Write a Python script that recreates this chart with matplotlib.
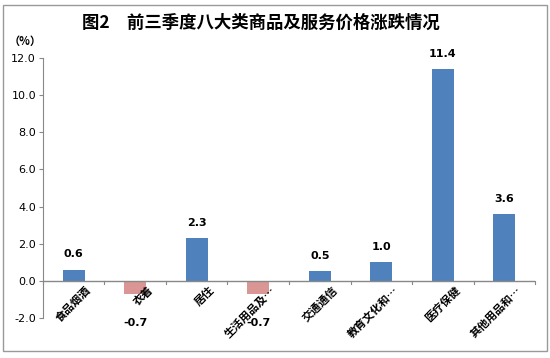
import numpy as np
import matplotlib.pyplot as plt
from matplotlib.patches import Rectangle

plt.rcParams['font.family'] = ['Noto Sans CJK SC', 'DejaVu Sans']

categories = ['食品烟酒', '衣着', '居住', '生活用品及…', '交通通信', '教育文化和…', '医疗保健', '其他用品和…']
values = [0.6, -0.7, 2.3, -0.7, 0.5, 1.0, 11.4, 3.6]
yticks = [-2.0, 0.0, 2.0, 4.0, 6.0, 8.0, 10.0, 12.0]

blue = '#4F81BD'
pink = '#D99694'

fig = plt.figure(figsize=(5.5, 3.58), dpi=100)
ax = fig.add_axes([0.078, 0.112, 0.895, 0.726])

ind = np.arange(len(categories))
colors = [blue if v >= 0 else pink for v in values]
ax.bar(ind, values, 0.36, color=colors, zorder=2)

ax.set_xlim(-0.5, len(categories) - 0.5)
ax.set_ylim(-2.0, 12.0)
ax.set_yticks(yticks)
ax.set_yticklabels(['%.1f' % t for t in yticks], fontsize=8, family='DejaVu Sans')
ax.tick_params(axis='y', direction='out', length=3, color='#888888', pad=2)

for s in ['top', 'right', 'bottom']:
    ax.spines[s].set_visible(False)
ax.spines['left'].set_color('#888888')

# x axis line at zero with ticks between categories
ax.axhline(0, color='#888888', lw=1, zorder=3)
ax.set_xticks([])
for b in np.arange(-0.5, len(categories), 1.0):
    ax.plot([b, b], [0, -0.2], color='#888888', lw=0.8, clip_on=False, zorder=3)

# category labels
for i, c in enumerate(categories):
    ax.text(i + 0.18, -0.15, c, rotation=45, rotation_mode='anchor',
            ha='right', va='top', fontsize=8, fontweight='bold')

# value labels
for i, v in enumerate(values):
    if v >= 0:
        ax.text(i, v + 0.55, '%.1f' % v, ha='center', va='bottom',
                fontsize=8, fontweight='bold', family='DejaVu Sans')
    else:
        ax.text(i, -2.3, '%.1f' % v, ha='center', va='center',
                fontsize=8, fontweight='bold', family='DejaVu Sans')

fig.text(0.045, 0.875, '（%）', fontsize=8, fontweight='bold', ha='center')
fig.text(0.475, 0.935, '图2　前三季度八大类商品及服务价格涨跌情况', fontsize=12.5,
         fontweight='bold', ha='center', va='center')

fig.patches.append(Rectangle((0.006, 0.02), 0.988, 0.965, transform=fig.transFigure,
                             fill=False, edgecolor='#999999', lw=1))

fig.savefig('out.png', dpi=100)
